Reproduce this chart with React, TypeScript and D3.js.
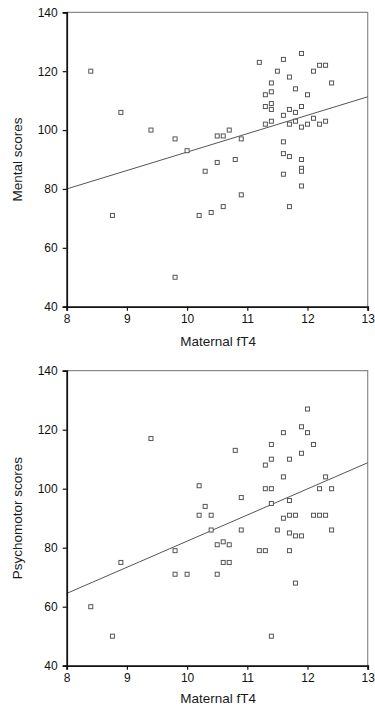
import React, { useEffect, useRef } from 'react';
import * as d3 from 'd3';

// fT4 / score pairs
const mentalFT4 = [
  8.4, 8.76, 8.9, 9.4, 9.8, 9.8, 10.0, 10.2, 10.3, 10.4, 10.5, 10.5, 10.6, 10.6, 10.7, 10.8, 10.9, 10.9,
  11.2, 11.3, 11.3, 11.3, 11.4, 11.4, 11.4, 11.4, 11.4, 11.5, 11.6, 11.6, 11.6, 11.6, 11.6,
  11.7, 11.7, 11.7, 11.7, 11.7, 11.8, 11.8, 11.8, 11.9, 11.9, 11.9, 11.9, 11.9, 11.9, 11.9,
  12.0, 12.0, 12.1, 12.1, 12.2, 12.2, 12.3, 12.3, 12.4
];
const mentalScores = [
  120, 71, 106, 100, 97, 50, 93, 71, 86, 72, 89, 98, 98, 74, 100, 90, 97, 78,
  123, 112, 108, 102, 116, 113, 109, 107, 103, 120, 124, 105, 96, 92, 85,
  118, 107, 102, 91, 74, 114, 106, 103, 126, 108, 101, 90, 87, 86, 81,
  112, 102, 120, 104, 122, 102, 122, 103, 116
];

const psychoFT4 = [
  8.4, 8.76, 8.9, 9.4, 9.8, 9.8, 10.0, 10.2, 10.2, 10.3, 10.4, 10.4, 10.5, 10.5, 10.6, 10.6, 10.7, 10.7,
  10.8, 10.9, 10.9, 11.2, 11.3, 11.3, 11.3, 11.4, 11.4, 11.4, 11.4, 11.4, 11.5, 11.6, 11.6, 11.6,
  11.7, 11.7, 11.7, 11.7, 11.7, 11.8, 11.8, 11.8, 11.9, 11.9, 11.9, 12.0, 12.0, 12.1, 12.1,
  12.2, 12.2, 12.3, 12.3, 12.4, 12.4
];
const psychoScores = [
  60, 50, 75, 117, 79, 71, 71, 101, 91, 94, 91, 86, 81, 71, 82, 75, 81, 75,
  113, 97, 86, 79, 108, 100, 79, 115, 110, 100, 95, 50, 86, 119, 104, 90,
  110, 96, 91, 85, 79, 91, 84, 68, 121, 112, 84, 127, 119, 115, 91,
  100, 91, 104, 91, 100, 86
];

// fitted line values at fT4 = 8 and 13
const fitX = [8, 13];
const mentalFit = [80, 111.3];
const psychoFit = [64.5, 108.8];

const xTicks = [8, 9, 10, 11, 12, 13];
const yTicks = [40, 60, 80, 100, 120, 140];

interface PanelProps {
  xs: number[];
  ys: number[];
  fit: number[];
  yLabel: string;
  top: number;
  bottom: number;
  titleGap: number;
}

const ScatterPanel: React.FC<PanelProps> = ({ xs, ys, fit, yLabel, top, bottom, titleGap }) => {
  const gRef = useRef<SVGGElement>(null);

  useEffect(() => {
    const g = d3.select(gRef.current);
    g.selectAll('*').remove();

    const left = 66.7;
    const right = 367.7;
    const font = '"Liberation Sans", Arial, sans-serif';

    const xScale = d3.scaleLinear().domain([8, 13]).range([left, right]);
    const yScale = d3.scaleLinear().domain([40, 140]).range([bottom, top]);

    // grey frame on top and right
    g.append('path')
      .attr('d', `M${left},${top}H${right}V${bottom}`)
      .attr('fill', 'none')
      .attr('stroke', '#8a8a8a')
      .attr('stroke-width', 1.2);

    // fitted line
    g.append('line')
      .attr('x1', xScale(fitX[0]))
      .attr('y1', yScale(fit[0]))
      .attr('x2', xScale(fitX[1]))
      .attr('y2', yScale(fit[1]))
      .attr('stroke', '#555')
      .attr('stroke-width', 1);

    // open square markers
    const s = 4;
    g.selectAll('.pt')
      .data(xs.map((x, i) => [x, ys[i]]))
      .enter().append('rect')
      .attr('class', 'pt')
      .attr('x', d => xScale(d[0]) - s / 2)
      .attr('y', d => yScale(d[1]) - s / 2)
      .attr('width', s)
      .attr('height', s)
      .attr('fill', '#fff')
      .attr('stroke', '#555')
      .attr('stroke-width', 1);

    // axes
    const xAxis = g.append('g')
      .attr('transform', `translate(0,${bottom})`)
      .call(d3.axisBottom(xScale).tickValues(xTicks).tickSize(4).tickPadding(4).tickFormat(d3.format('d')));
    const yAxis = g.append('g')
      .attr('transform', `translate(${left},0)`)
      .call(d3.axisLeft(yScale).tickValues(yTicks).tickSize(4).tickPadding(5).tickFormat(d3.format('d')));

    [xAxis, yAxis].forEach(ax => {
      ax.select('.domain').attr('stroke', '#111').attr('stroke-width', 1.8);
      ax.selectAll('.tick line').attr('stroke', '#111').attr('stroke-width', 1.2);
      ax.selectAll('.tick text')
        .attr('fill', '#111')
        .style('font-family', font)
        .style('font-size', '12px');
    });

    // axis titles
    g.append('text')
      .attr('x', (left + right) / 2 + 1)
      .attr('y', bottom + titleGap)
      .attr('text-anchor', 'middle')
      .attr('fill', '#1a1a1a')
      .style('font-family', font)
      .style('font-size', '13.5px')
      .text('Maternal fT4');

    g.append('text')
      .attr('transform', 'rotate(-90)')
      .attr('x', -(top + bottom) / 2)
      .attr('y', 22)
      .attr('text-anchor', 'middle')
      .attr('fill', '#1a1a1a')
      .style('font-family', font)
      .style('font-size', '13.5px')
      .text(yLabel);
  }, [xs, ys, fit, yLabel, top, bottom, titleGap]);

  return <g ref={gRef}></g>;
};

export default function App() {
  return (
    <svg
      width={375}
      height={706}
      style={{ position: 'absolute', left: 0, top: 0, background: '#fff' }}
    >
      <ScatterPanel xs={mentalFT4} ys={mentalScores} fit={mentalFit} yLabel="Mental scores" top={12.3} bottom={306.7} titleGap={39} />
      <ScatterPanel xs={psychoFT4} ys={psychoScores} fit={psychoFit} yLabel="Psychomotor scores" top={370.7} bottom={665.7} titleGap={37} />
    </svg>
  );
}
